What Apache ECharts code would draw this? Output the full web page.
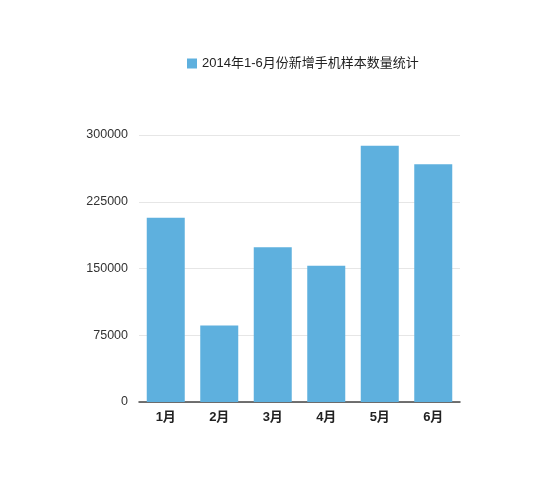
<!DOCTYPE html>
<html><head><meta charset="utf-8">
<script src="https://cdn.jsdelivr.net/npm/echarts@6/dist/echarts.min.js"></script>
<style>html,body{margin:0;padding:0;background:#fff}#c{width:554px;height:501px}</style>
</head><body><div id="c"></div>
<script>
const categories = ['1月','2月','3月','4月','5月','6月'];
const seriesName = '2014年1-6月份新增手机样本数量统计';
const values = [207000, 86000, 174000, 153000, 288000, 267000];
const yTicks = [0, 75000, 150000, 225000, 300000];

const chart = echarts.init(document.getElementById('c'));
chart.setOption({
  backgroundColor: '#fff',
  animation: false,
  legend: {
    top: 52, left: 182,
    itemWidth: 10, itemHeight: 10, itemGap: 5,
    icon: 'rect',
    textStyle: { fontSize: 13, color: '#222', fontFamily: 'Liberation Sans, Noto Sans CJK SC, sans-serif' },
    data: [seriesName]
  },
  grid: { left: 139, right: 94, top: 135, bottom: 99, containLabel: false },
  xAxis: {
    type: 'category', data: categories,
    axisLine: { lineStyle: { color: '#444', width: 1.5 } },
    axisTick: { show: false },
    axisLabel: { fontSize: 13, fontWeight: 'bold', color: '#222', margin: 9, fontFamily: 'Liberation Sans, Noto Sans CJK SC, sans-serif' }
  },
  yAxis: {
    type: 'value', min: yTicks[0], max: yTicks[yTicks.length-1], interval: 75000,
    axisLine: { show: false }, axisTick: { show: false },
    splitLine: { lineStyle: { color: '#e6e6e6', width: 1 } },
    axisLabel: { fontSize: 12.5, color: '#333', margin: 11, fontFamily: 'Liberation Sans, sans-serif',
      formatter: function (v) { return String(v); } }
  },
  series: [{
    name: seriesName, type: 'bar', data: values,
    barWidth: 38,
    itemStyle: { color: '#5eb0de' }
  }]
});
</script></body></html>
